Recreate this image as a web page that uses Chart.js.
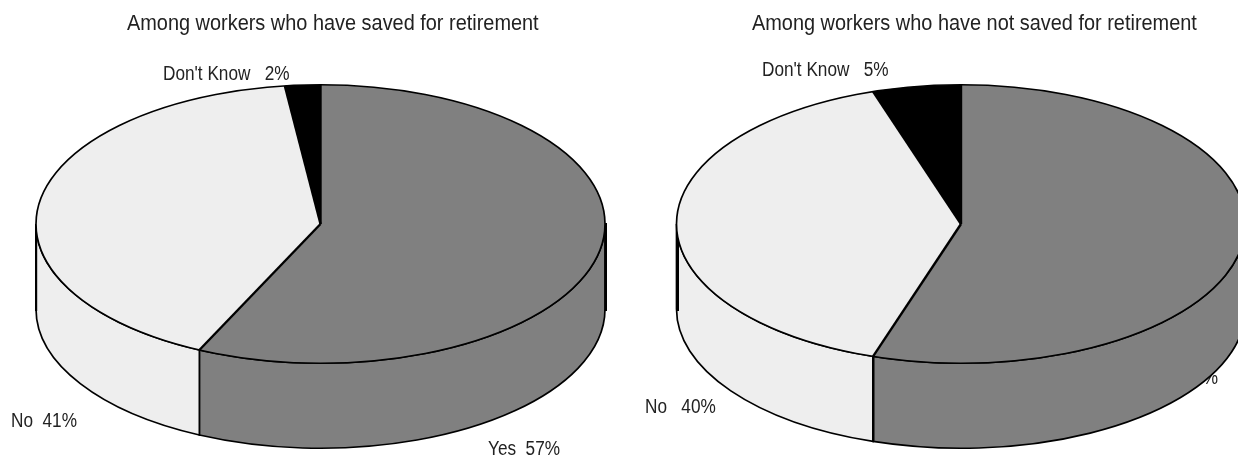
<!DOCTYPE html>
<html>
<head>
<meta charset="utf-8">
<style>
  html, body { margin: 0; padding: 0; background: #fff; overflow: hidden; }
  #wrap { position: relative; width: 1238px; height: 459px; overflow: hidden; }
  canvas { position: absolute; top: 0; }
</style>
<script src="https://cdn.jsdelivr.net/npm/chart.js@4/dist/chart.umd.min.js"></script>
</head>
<body>
<div id="wrap">
  <canvas id="savedPie" style="left:0"></canvas>
  <canvas id="notSavedPie" style="left:619px"></canvas>
</div>
<script>
const categories = ["Yes", "No", "Don't Know"];
const savedValues = [57, 41, 2];
const notSavedValues = [55, 40, 5];
const savedTitle = "Among workers who have saved for retirement";
const notSavedTitle = "Among workers who have not saved for retirement";
const sliceColors = ["#808080", "#eeeeee", "#000000"];

const SQUASH = 139.5 / 285; // flattening of the round pie into the tilted ellipse
const DEPTH = 85;           // height of the side wall

// No narrow font is installed, so squeeze Liberation Sans sideways
function narrowText(ctx, text, x, y, font, sx) {
  ctx.save();
  ctx.font = font;
  ctx.translate(x, y);
  ctx.scale(sx, 1);
  ctx.fillText(text, 0, 0);
  ctx.restore();
}

// Text goes down first so the pie can cover it, like the right hand "Yes" label
function drawText(chart, o) {
  const ctx = chart.ctx;
  ctx.save();
  ctx.fillStyle = "#222";
  ctx.textBaseline = "alphabetic";
  ctx.textAlign = "left";
  narrowText(ctx, o.title, o.titleX, 30, '22px "Liberation Sans"', 0.905);
  o.labels.forEach((l, i) => {
    const txt = `${categories[i]}${l.gap}${chart.data.datasets[0].data[i]}%`;
    narrowText(ctx, txt, l.x, l.y, '20px "Liberation Sans"', 0.86);
  });
  ctx.restore();
}

// Side wall of the pie, built from the arc elements the library laid out
function drawWall(chart, o) {
  const ctx = chart.ctx;
  const arcs = chart.getDatasetMeta(0).data;
  const cx = arcs[0].x, cy = arcs[0].y, r = arcs[0].outerRadius;
  const ry = r * SQUASH;
  arcs.forEach((arc, i) => {
    // only the part facing the viewer (0..PI on canvas) is visible
    [0, -2 * Math.PI].forEach(shift => {
      const s = Math.max(arc.startAngle + shift, 0), e = Math.min(arc.endAngle + shift, Math.PI);
      if (e <= s) return;
      ctx.beginPath();
      ctx.ellipse(cx, cy, r, ry, 0, s, e);
      ctx.lineTo(cx + r * Math.cos(e), cy + ry * Math.sin(e) + DEPTH);
      ctx.ellipse(cx, cy + DEPTH, r, ry, 0, e, s, true);
      ctx.closePath();
      ctx.fillStyle = sliceColors[i];
      ctx.fill();
      ctx.strokeStyle = "#000";
      ctx.lineWidth = 1.7;
      ctx.stroke();
    });
  });
  // heavier upright edges
  ctx.fillStyle = "#000";
  o.heavyEdges.forEach(e => ctx.fillRect(e.x, e.y, e.w, e.h));
}

// Outline of the top face, even width all round (a scaled border would go thin)
function drawTopOutline(chart) {
  const ctx = chart.ctx;
  const arcs = chart.getDatasetMeta(0).data;
  const cx = arcs[0].x, cy = arcs[0].y, r = arcs[0].outerRadius;
  const ry = r * SQUASH;
  ctx.save();
  ctx.strokeStyle = "#000";
  ctx.lineWidth = 1.7;
  ctx.beginPath();
  ctx.ellipse(cx, cy, r, ry, 0, 0, 2 * Math.PI);
  ctx.stroke();
  ctx.lineWidth = 2.4;
  ctx.lineJoin = "round";
  arcs.forEach(arc => {
    ctx.beginPath();
    ctx.moveTo(cx, cy);
    ctx.lineTo(cx + r * Math.cos(arc.startAngle), cy + ry * Math.sin(arc.startAngle));
    ctx.stroke();
  });
  ctx.restore();
}

const tiltPlugin = {
  id: "tilt",
  beforeDatasetsDraw(chart, args, opts) {
    drawText(chart, opts);
    drawWall(chart, opts);
    const ctx = chart.ctx;
    const cy = chart.getDatasetMeta(0).data[0].y;
    ctx.save();
    ctx.translate(0, cy);
    ctx.scale(1, SQUASH);
    ctx.translate(0, -cy);
  },
  afterDatasetsDraw(chart) {
    chart.ctx.restore();
    drawTopOutline(chart);
  }
};

function makePie(id, values, padLeft, text) {
  return new Chart(document.getElementById(id), {
    type: "pie",
    data: {
      labels: categories,
      datasets: [{
        data: values,
        backgroundColor: sliceColors,
        borderWidth: 0,
        clip: false
      }]
    },
    options: {
      responsive: false,
      animation: false,
      devicePixelRatio: 1,
      radius: 284.5,
      layout: { padding: { left: padLeft, bottom: 11 } },
      plugins: { legend: { display: false }, tooltip: { enabled: false }, tilt: text }
    },
    plugins: [tiltPlugin]
  });
}

document.querySelectorAll("canvas").forEach(c => { c.width = 619; c.height = 459; });

makePie("savedPie", savedValues, 22, {
  title: savedTitle, titleX: 127,
  heavyEdges: [{ x: 604.5, y: 223, w: 2.5, h: 88 }, { x: 35, y: 224, w: 2.2, h: 87 }],
  labels: [{ x: 488, y: 455, gap: "  " }, { x: 11, y: 427, gap: "  " }, { x: 163, y: 80, gap: "   " }]
});
makePie("notSavedPie", notSavedValues, 65, {
  title: notSavedTitle, titleX: 133,
  heavyEdges: [{ x: 57.5, y: 223, w: 2.5, h: 88 }, { x: 253, y: 356, w: 2.5, h: 86 }],
  labels: [{ x: 527, y: 384, gap: "  " }, { x: 26, y: 413, gap: "   " }, { x: 143, y: 76, gap: "   " }]
});
</script>
</body>
</html>
